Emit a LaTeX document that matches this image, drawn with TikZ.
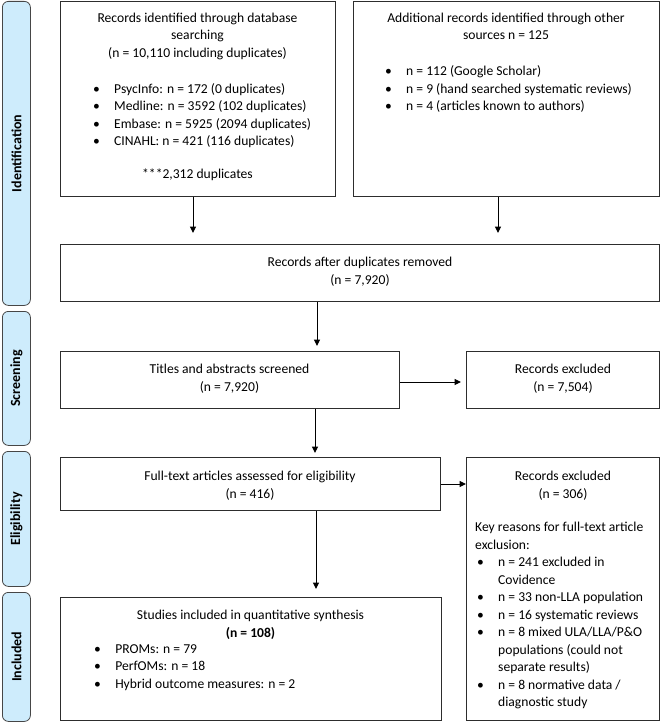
\documentclass[tikz,border=0pt]{standalone}
\usepackage{fontspec}
\setmainfont{Carlito}
\usetikzlibrary{arrows.meta}
\definecolor{bandfill}{RGB}{206,236,252}
\definecolor{bandline}{RGB}{70,70,70}
\definecolor{boxline}{RGB}{45,45,45}
\newcommand{\bul}[1][21pt]{\makebox[#1][l]{\textbullet}}
\begin{document}
\begin{tikzpicture}[x=1pt,y=-1pt,
  box/.style={draw=boxline, line width=0.9pt, anchor=north west, inner sep=0pt},
  band/.style={draw=bandline, fill=bandfill, rounded corners=6pt, line width=0.8pt, anchor=north west, inner sep=0pt, minimum width=28pt},
  bandlabel/.style={rotate=90, inner sep=0pt, font=\fontsize{14}{16}\selectfont\bfseries},
  txt/.style={font=\fontsize{13.6}{17.5}\selectfont, inner sep=0pt, align=center, anchor=north},
  lst/.style={font=\fontsize{13.6}{17.5}\selectfont, inner sep=0pt, align=left, anchor=north west},
  arr/.style={-{Triangle[length=6.5pt,width=6pt]}, line width=1pt}]
\useasboundingbox (0,0) rectangle (661,722);

% phase bands
\node[band, minimum height=304pt] (b1) at (2,1) {};
\node[band, minimum height=134pt] (b2) at (2,311) {};
\node[band, minimum height=135pt] (b3) at (2,451) {};
\node[band, minimum height=129pt] (b4) at (2,592) {};
\node[bandlabel] (l1) at (b1.center) {Identification};
\node[bandlabel] (l2) at (b2.center) {Screening};
\node[bandlabel] (l3) at (b3.center) {Eligibility};
\node[bandlabel] (l4) at (b4.center) {Included};

% boxes
\node[box, minimum width=275pt, minimum height=195pt] (A) at (60,1) {};
\node[box, minimum width=306pt, minimum height=195pt] (B) at (353,1) {};
\node[box, minimum width=599pt, minimum height=57pt] (C) at (60,244) {};
\node[box, minimum width=339pt, minimum height=57pt] (D) at (60,351) {};
\node[box, minimum width=193pt, minimum height=57pt] (F) at (466,351) {};
\node[box, minimum width=380pt, minimum height=53pt] (E) at (60,457) {};
\node[box, minimum width=193pt, minimum height=263pt] (G) at (466,457) {};
\node[box, minimum width=381pt, minimum height=123pt] (H) at (60,597) {};

% texts
\node[txt] (tA) at (197.5,12.5) {Records identified through database\\searching\\(n = 10,110 including duplicates)};
\node[lst] (lA) at (93,83) {\bul PsycInfo: n = 172 (0 duplicates)\\\bul Medline: n = 3592 (102 duplicates)\\\bul Embase: n = 5925 (2094 duplicates)\\\bul CINAHL: n = 421 (116 duplicates)};
\node[txt] (dA) at (197.5,168.5) {***2,312 duplicates};

\node[txt] (tB) at (506,12.5) {Additional records identified through other\\sources n = 125};
\node[lst] (lB) at (385,65.5) {\bul n = 112 (Google Scholar)\\\bul n = 9 (hand searched systematic reviews)\\\bul n = 4 (articles known to authors)};

\node[txt] (tC) at (360,257) {Records after duplicates removed\\(n = 7,920)};
\node[txt] (tD) at (229.5,364) {Titles and abstracts screened\\(n = 7,920)};
\node[txt] (tF) at (563,364) {Records excluded\\(n = 7,504)};
\node[txt] (tE) at (250,471) {Full-text articles assessed for eligibility\\(n = 416)};
\node[txt] (tG) at (563,471) {Records excluded\\(n = 306)};
\node[lst] (lG) at (475,522) {Key reasons for full-text article\\exclusion:\\
\hspace*{2pt}\bul n = 241 excluded in\\\hspace*{23pt}Covidence\\
\hspace*{2pt}\bul n = 33 non-LLA population\\
\hspace*{2pt}\bul n = 16 systematic reviews\\
\hspace*{2pt}\bul n = 8 mixed ULA/LLA/P\&O\\\hspace*{23pt}populations (could not\\\hspace*{23pt}separate results)\\
\hspace*{2pt}\bul n = 8 normative data /\\\hspace*{23pt}diagnostic study};
\node[txt] (tH) at (250.5,610) {Studies included in quantitative synthesis\\\textbf{(n = 108)}};
\node[lst] (lH) at (94,644) {\bul[18pt] PROMs: n = 79\\\bul[18pt] PerfOMs: n = 18\\\bul[18pt] Hybrid outcome measures: n = 2};

% connectors
\coordinate (xa) at (193,0);
\coordinate (xb) at (498,0);
\coordinate (xc) at (317,0);
\coordinate (xd) at (315,0);
\coordinate (xe) at (316,0);
\coordinate (yd) at (0,382);
\coordinate (ye) at (0,484);
\draw[arr, shorten >=11pt] (A.south -| xa) -- (C.north -| xa);
\draw[arr, shorten >=11pt] (B.south -| xb) -- (C.north -| xb);
\draw[arr, shorten >=5pt] (C.south -| xc) -- (D.north -| xc);
\draw[arr, shorten >=4pt] (D.south -| xd) -- (E.north -| xd);
\draw[arr, shorten >=8pt] (E.south -| xe) -- (H.north -| xe);
\draw[arr, shorten >=5pt] (D.east |- yd) -- (F.west |- yd);
\draw[arr] (E.east |- ye) -- (G.west |- ye);
\end{tikzpicture}
\end{document}
